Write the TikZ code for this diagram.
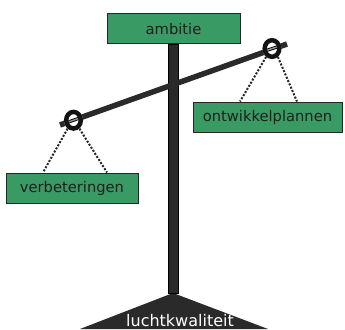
\documentclass[tikz,border=0pt]{standalone}
\usepackage{fontspec}
\setmainfont{DejaVu Sans}
\usetikzlibrary{calc,shapes.geometric}
\definecolor{boxgreen}{HTML}{3A9A64}
\definecolor{darkgray2}{HTML}{2A2A2A}
\begin{document}
\begin{tikzpicture}[x=1pt,y=-1pt,
  labelbox/.style={draw=black!85, line width=1pt, fill=boxgreen, inner sep=0pt,
    minimum height=30pt, text=black!88, font=\fontsize{14.7}{16}\selectfont},
  ringnode/.style={ellipse, fill=white, minimum width=19pt, minimum height=21pt, inner sep=0pt},
  ringline/.style={draw=black!92, line width=4.5pt},
  hang/.style={line width=2pt, dash pattern=on 2pt off 1.6pt, draw=black!85},
  beamstyle/.style={line width=5.5pt, draw=darkgray2}]
\useasboundingbox (0,0) rectangle (345,329);
\fill[white] (0,0) rectangle (345,329);
% base
\coordinate (apex) at (173,293);
\coordinate (bl) at (80,329);
\coordinate (br) at (268,329);
\coordinate (poletop) at (173,44);
\fill[darkgray2] (apex) -- (br) -- (bl) -- cycle;
\node[text=white, font=\fontsize{16}{18}\selectfont, anchor=base] (base) at (180,326) {luchtkwaliteit};
% pole
\fill[darkgray2, draw=black, line width=0.6pt] ($(poletop)+(-5,0)$) rectangle ($(apex)+(5,0)$);
\node[labelbox, minimum width=133pt] (amb) at (173.5,29) {ambitie};
% beam
\coordinate (beamL) at (60,125);
\coordinate (beamR) at (287,44);
\draw[beamstyle] (beamL) -- (beamR);
% rings
\node[ringnode] (rL) at (73.5,120.2) {};
\node[ringnode] (rR) at (272,48.5) {};
\foreach \r in {rL,rR}{
  \draw[line width=0.9pt, black, double=darkgray2!50, double distance=1.4pt]
    ($(\r)!5pt!(beamL)$) -- ($(\r)!5pt!(beamR)$);
  \draw[ringline] (\r) ellipse [x radius=7.3, y radius=8.3];
}
% boxes
\node[labelbox, minimum width=132pt] (verb) at (72,188) {verbeteringen};
\node[labelbox, minimum width=149pt] (ontw) at (267.5,117) {ontwikkelplannen};
% hangers
\draw[hang] (rL.-125) -- ($(verb.north)+(-29,0)$);
\draw[hang] (rL.-55) -- ($(verb.north)+(35,0)$);
\draw[hang] (rR.-125) -- ($(ontw.north)+(-27.5,0)$);
\draw[hang] (rR.-55) -- ($(ontw.north)+(29.5,0)$);
\end{tikzpicture}
\end{document}
